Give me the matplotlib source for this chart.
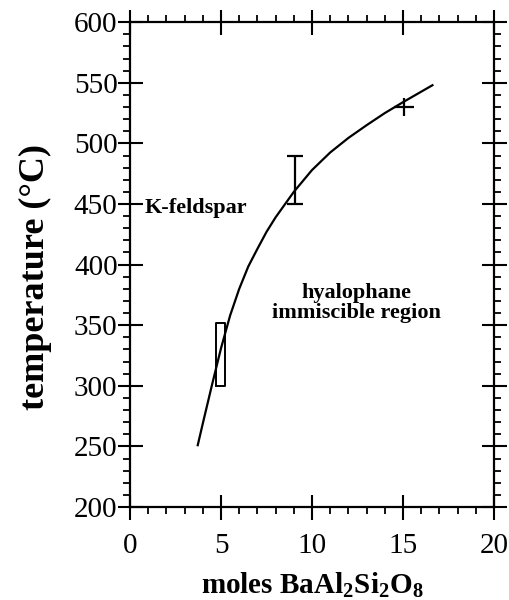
import numpy as np
import matplotlib
matplotlib.use("Agg")
import matplotlib.pyplot as plt
from matplotlib.ticker import MultipleLocator

plt.rcParams['font.family'] = ['Liberation Serif', 'DejaVu Serif']
plt.rcParams['mathtext.fontset'] = 'custom'
plt.rcParams['mathtext.rm'] = 'Liberation Serif'
plt.rcParams['mathtext.bf'] = 'Liberation Serif:bold'

# solvus curve
curve_x = [3.72, 4.0, 4.5, 5.0, 5.5, 6.0, 6.5, 7.0, 7.5, 8.0, 9.0, 10.0,
           11.0, 12.0, 13.0, 14.0, 15.0, 16.62]
curve_t = [251, 269, 300.5, 331, 358, 380, 398.5, 413, 427, 439, 460, 478,
           492.5, 504.5, 515, 525, 534, 548]

# experimental brackets
box_x = [4.72, 5.22]
box_t = [300, 352]
bar_x = 9.05
bar_t = [450, 490]
plus_x, plus_t = 15.05, 530
plus_xerr, plus_terr = 0.55, 7.5

fig = plt.figure(figsize=(5.1, 6.0), dpi=100)
ax = fig.add_axes([0.255, 0.155, 0.7135, 0.808])

ax.plot(curve_x, curve_t, color='black', lw=1.6)

# rectangle bracket
ax.plot([box_x[0], box_x[1], box_x[1], box_x[0], box_x[0]],
        [box_t[0], box_t[0], box_t[1], box_t[1], box_t[0]], color='black', lw=1.4)

# error bar
ax.errorbar([bar_x], [np.mean(bar_t)], yerr=[(bar_t[1] - bar_t[0]) / 2],
            fmt='none', ecolor='black', elinewidth=1.6, capsize=6, capthick=1.6)

# plus marker
ax.errorbar([plus_x], [plus_t], xerr=[plus_xerr], yerr=[plus_terr],
            fmt='none', ecolor='black', elinewidth=1.6, capsize=0)

ax.text(0.8, 447, 'K-feldspar', fontsize=16, fontweight='bold', va='center', ha='left')
ax.text(12.45, 368, 'hyalophane\nimmiscible region', fontsize=16, fontweight='bold',
        va='center', ha='center', linespacing=1.0)

ax.set_xlim(0, 20)
ax.set_ylim(200, 600)
ax.xaxis.set_major_locator(MultipleLocator(5))
ax.xaxis.set_minor_locator(MultipleLocator(1))
ax.yaxis.set_major_locator(MultipleLocator(50))
ax.yaxis.set_minor_locator(MultipleLocator(10))
ax.tick_params(which='major', direction='inout', length=18, width=1.5,
               top=True, right=True, labelsize=21)
ax.tick_params(axis='x', which='major', pad=10)
ax.tick_params(axis='y', which='major', pad=0)
ax.tick_params(which='minor', direction='out', length=5, width=1.3,
               top=True, right=True)
for s in ax.spines.values():
    s.set_linewidth(1.6)

ax.set_xlabel(r'moles BaAl$_\mathbf{2}$Si$_\mathbf{2}$O$_\mathbf{8}$',
              fontsize=21, fontweight='bold', labelpad=8)
ax.set_ylabel('temperature (°C)', fontsize=26, fontweight='bold')
ax.yaxis.set_label_coords(-0.215, 0.474)

fig.savefig('out.png', dpi=100)
